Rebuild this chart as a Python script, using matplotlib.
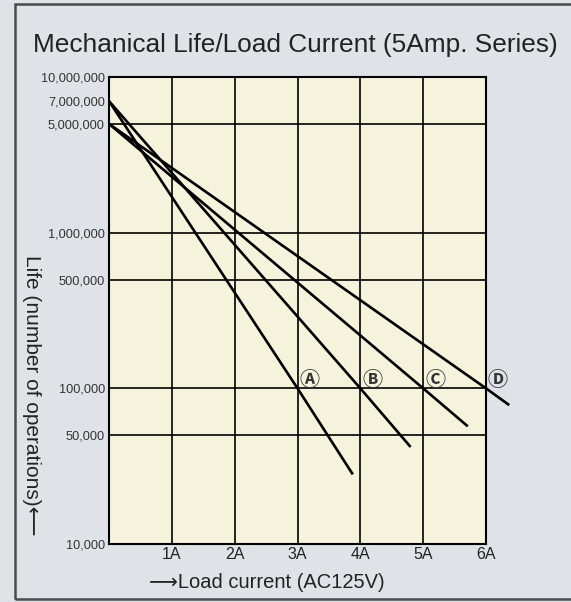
import matplotlib.pyplot as plt
from matplotlib.patches import Rectangle
from matplotlib.ticker import FixedLocator, NullLocator

# ── data ──
series = ["Ⓐ", "Ⓑ", "Ⓒ", "Ⓓ"]
start_life = [7000000, 7000000, 5000000, 5000000]   # at 0 A
rated_current = [3, 4, 5, 6]                       # where each line hits 100,000
rated_life = [100000, 100000, 100000, 100000]
end_current = [3.88, 4.80, 5.71, 6.37]
end_life = [28000, 42000, 57000, 78000]

y_ticks = [10000, 50000, 100000, 500000, 1000000, 5000000, 7000000, 10000000]
y_grid = [50000, 100000, 500000, 1000000, 5000000]
x_ticks = [1, 2, 3, 4, 5, 6]
x_labels = ["1A", "2A", "3A", "4A", "5A", "6A"]

plt.rcParams['font.family'] = ['Liberation Sans', 'DejaVu Sans']

fig = plt.figure(figsize=(5.71, 6.02), dpi=100)
fig.patch.set_facecolor("#dfe3e7")

# outer frame (left, top, bottom visible)
fig.add_artist(Rectangle((15 / 571, 1 - 599 / 602), 1.0, (599 - 4) / 602,
                         transform=fig.transFigure, fill=False,
                         edgecolor="#4a4a4a", linewidth=1.8))

ax = fig.add_axes([109 / 571, 1 - 544 / 602, 377 / 571, 467 / 602])
ax.set_facecolor("#f6f3dc")
ax.set_yscale("log")
ax.set_xlim(0, 6)
ax.set_ylim(10000, 10000000)

for y in y_grid:
    ax.axhline(y, color="black", lw=1.2, zorder=1)
for x in x_ticks[:-1]:
    ax.axvline(x, color="black", lw=1.2, zorder=1)

for name, s, rc, rl, ec, el in zip(series, start_life, rated_current,
                                   rated_life, end_current, end_life):
    ax.plot([0, rc, ec], [s, rl, el], color="black", lw=1.9,
            solid_capstyle="butt", clip_on=False, zorder=3)
    ax.text(rc + 0.19, rl * 1.14, name, fontsize=14.5, color="#333333",
            ha="center", va="center", zorder=4, fontweight="bold",
            family=['Noto Sans CJK JP', 'DejaVu Sans'])

ax.yaxis.set_major_locator(FixedLocator(y_ticks))
ax.yaxis.set_minor_locator(NullLocator())
ax.set_yticklabels([f"{v:,}" for v in y_ticks], fontsize=9.2, color="#333333")
ax.set_xticks(x_ticks)
ax.set_xticklabels(x_labels, fontsize=11.5, color="#222222")
ax.tick_params(length=0, pad=3)
ax.tick_params(axis="x", pad=2)
for sp in ax.spines.values():
    sp.set_linewidth(1.5)
    sp.set_color("black")

fig.text(295 / 571, 1 - 45 / 602, "Mechanical Life/Load Current (5Amp. Series)",
         fontsize=18.9, color="#222222", ha="center", va="center")
fig.text(267 / 571, 1 - 583 / 602, "⟶Load current (AC125V)",
         fontsize=14.5, color="#222222", ha="center", va="center")
fig.text(31 / 571, 1 - 395 / 602, "Life (number of operations)⟵",
         fontsize=15, color="#222222", ha="center", va="center", rotation=-90)

fig.savefig("out.png", dpi=100, facecolor=fig.get_facecolor())
